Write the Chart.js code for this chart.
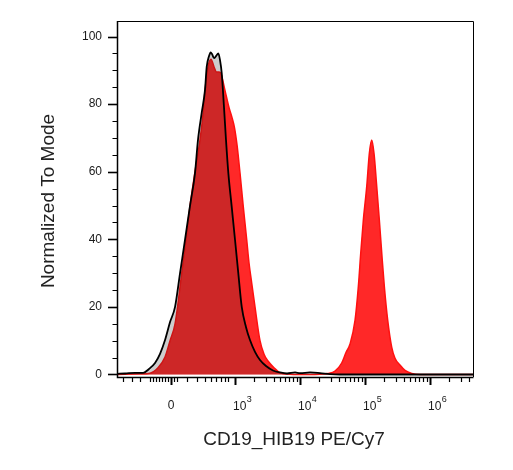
<!DOCTYPE html>
<html>
<head>
<meta charset="utf-8">
<script src="https://cdn.jsdelivr.net/npm/chart.js@4.4.1/dist/chart.umd.min.js"></script>
<style>
  html, body { margin: 0; padding: 0; background: #ffffff; }
  #wrap { width: 513px; height: 470px; position: relative; }
</style>
</head>
<body>
<div id="wrap"><canvas id="c"></canvas></div>
<script>
// ---- Data (x in display decades: 3 = 10^3, 4 = 10^4 ...; y = % of mode) ----
const CONTROL_X = [1.192, 1.315, 1.469, 1.592, 1.700, 1.777, 1.854, 1.931, 2.008, 2.085, 2.162, 2.238, 2.315, 2.392, 2.438, 2.495, 2.546, 2.572, 2.608, 2.634, 2.654, 2.685, 2.715, 2.751, 2.777, 2.803, 2.838, 2.869, 2.905, 2.957, 3.008, 3.058, 3.111, 3.177, 3.238, 3.315, 3.392, 3.485, 3.592, 3.700, 3.808, 3.931, 4.008, 4.162, 4.315, 4.469, 4.623, 6.669];
const CONTROL_Y = [0.2, 0.3, 0.5, 0.5, 1.9, 3.4, 6.1, 10.2, 15.5, 20.0, 30.0, 39.8, 49.9, 59.6, 69.4, 77.4, 84.2, 91.0, 94.2, 95.3, 94.8, 93.6, 94.2, 95.0, 93.0, 89.2, 79.1, 69.4, 59.6, 49.6, 39.8, 30.0, 20.0, 14.0, 10.2, 6.7, 4.3, 2.5, 1.2, 0.6, 0.3, 0.6, 0.4, 0.6, 0.4, 0.1, 0.0, 0.0];

const CD19_X = [1.192, 1.546, 1.700, 1.823, 1.931, 2.008, 2.085, 2.188, 2.254, 2.315, 2.392, 2.469, 2.515, 2.546, 2.597, 2.638, 2.685, 2.723, 2.762, 2.792, 2.854, 2.915, 2.962, 3.000, 3.038, 3.085, 3.135, 3.188, 3.223, 3.265, 3.315, 3.392, 3.454, 3.515, 3.608, 3.700, 3.854, 4.162, 4.315, 4.438, 4.546, 4.649, 4.715, 4.777, 4.854, 4.905, 4.942, 4.982, 5.034, 5.074, 5.111, 5.146, 5.188, 5.228, 5.265, 5.305, 5.357, 5.418, 5.469, 5.546, 5.623, 5.726, 5.854, 6.669];
const CD19_Y = [0.0, 0.2, 0.4, 2.0, 5.2, 10.0, 15.0, 30.0, 40.0, 49.8, 60.0, 69.4, 77.0, 84.0, 91.5, 93.3, 91.0, 89.5, 89.5, 89.0, 84.0, 79.0, 76.0, 73.0, 68.0, 59.5, 49.6, 39.8, 33.0, 27.0, 20.0, 10.0, 6.0, 4.0, 2.0, 0.5, 0.1, 0.0, 0.1, 0.3, 1.0, 3.4, 6.5, 9.0, 16.0, 26.0, 35.9, 45.7, 55.6, 65.4, 69.4, 65.4, 55.6, 45.7, 35.9, 26.0, 16.0, 8.1, 4.8, 2.8, 1.2, 0.3, 0.0, 0.0];

// ---- Axes / ticks ----
const X_MIN = 1.192, X_MAX = 6.669;
const Y_MIN = -0.74, Y_MAX = 104.59;
const Y_MAJOR = [0, 20, 40, 60, 80, 100];
const Y_MINOR = [5, 10, 15, 25, 30, 35, 45, 50, 55, 65, 70, 75, 85, 90, 95];
const X_MAJOR_POS = [2.023, 3, 4, 5, 6];
const X_MAJOR_BASE = ['0', '10', '10', '10', '10'];
const X_MAJOR_EXP = ['', '3', '4', '5', '6'];
const X_MINOR_LINEAR = [1.280, 1.418, 1.546, 1.700, 1.746, 1.792, 1.838, 1.885, 1.931, 1.977, 2.069, 2.115, 2.269, 2.418, 2.546, 2.638, 2.720, 2.789, 2.849, 2.905];
const LOG_DECADES = [3, 4, 5, 6];
const LOG_MULTS = [2, 3, 4, 5, 6, 7, 8, 9];
const X_TITLE = 'CD19_HIB19 PE/Cy7';
const Y_TITLE = 'Normalized To Mode';

const FONT = "'Liberation Sans', Arial, sans-serif";

const axesPlugin = {
  id: 'flowAxes',
  afterDraw(chart) {
    const {ctx, chartArea: a, scales: {x, y}} = chart;
    ctx.save();
    ctx.strokeStyle = '#000';
    // frame
    ctx.lineWidth = 1;
    ctx.beginPath();
    ctx.moveTo(a.left, a.top + 0.5); ctx.lineTo(a.right + 0.5, a.top + 0.5);
    ctx.lineTo(a.right + 0.5, a.bottom);
    ctx.stroke();
    ctx.lineWidth = 1.5;
    ctx.beginPath();
    ctx.moveTo(a.left + 0.5, a.top); ctx.lineTo(a.left + 0.5, a.bottom + 0.5);
    ctx.lineTo(a.right + 0.5, a.bottom + 0.5);
    ctx.stroke();

    // y ticks
    ctx.lineWidth = 1.6;
    Y_MAJOR.forEach(v => {
      const py = Math.round(y.getPixelForValue(v)) + 0.5;
      ctx.beginPath(); ctx.moveTo(a.left - 9, py); ctx.lineTo(a.left + 0.5, py); ctx.stroke();
    });
    ctx.lineWidth = 1;
    Y_MINOR.forEach(v => {
      const py = Math.round(y.getPixelForValue(v)) + 0.5;
      ctx.beginPath(); ctx.moveTo(a.left - 4.5, py); ctx.lineTo(a.left + 0.5, py); ctx.stroke();
    });

    // x ticks
    const minors = X_MINOR_LINEAR.slice();
    LOG_DECADES.forEach(k => LOG_MULTS.forEach(m => {
      const p = k + Math.log10(m);
      if (p < X_MAX) minors.push(p);
    }));
    ctx.lineWidth = 1.2;
    minors.forEach(v => {
      const px = Math.round(x.getPixelForValue(v)) + 0.5;
      ctx.beginPath(); ctx.moveTo(px, a.bottom); ctx.lineTo(px, a.bottom + 5); ctx.stroke();
    });
    ctx.lineWidth = 2;
    X_MAJOR_POS.forEach(v => {
      const px = Math.round(x.getPixelForValue(v)) + 0.5;
      ctx.beginPath(); ctx.moveTo(px, a.bottom); ctx.lineTo(px, a.bottom + 8); ctx.stroke();
    });

    // y labels
    ctx.fillStyle = '#1a1a1a';
    ctx.font = '12px ' + FONT;
    ctx.textAlign = 'right';
    ctx.textBaseline = 'middle';
    Y_MAJOR.forEach(v => {
      ctx.fillText(String(v), a.left - 15, y.getPixelForValue(v));
    });

    // x labels
    X_MAJOR_POS.forEach((v, i) => {
      const px = x.getPixelForValue(v);
      ctx.font = '12px ' + FONT;
      ctx.textBaseline = 'middle';
      if (!X_MAJOR_EXP[i]) {
        ctx.textAlign = 'center';
        ctx.fillText(X_MAJOR_BASE[i], px, a.bottom + 29);
      } else {
        ctx.textAlign = 'left';
        const bx = px - 1.5;
        ctx.fillText(X_MAJOR_BASE[i], bx, a.bottom + 30);
        const w = ctx.measureText(X_MAJOR_BASE[i]).width;
        ctx.font = '9px ' + FONT;
        ctx.fillText(X_MAJOR_EXP[i], bx + w + 0.5, a.bottom + 23);
      }
    });

    // titles
    ctx.fillStyle = '#222';
    ctx.font = '19px ' + FONT;
    ctx.textAlign = 'center';
    ctx.textBaseline = 'middle';
    ctx.fillText(X_TITLE, (a.left + a.right) / 2 - 1, 440);
    ctx.save();
    ctx.translate(48.5, (a.top + a.bottom) / 2 + 2);
    ctx.rotate(-Math.PI / 2);
    ctx.fillText(Y_TITLE, 0, 0);
    ctx.restore();
    ctx.restore();
  }
};

const toPts = (xs, ys) => xs.map((v, i) => ({x: v, y: ys[i]}));

new Chart(document.getElementById('c'), {
  type: 'line',
  data: {
    datasets: [
      {
        label: 'Unstained control',
        data: toPts(CONTROL_X, CONTROL_Y),
        order: 1,
        borderColor: '#000000',
        borderWidth: 1.8,
        backgroundColor: 'rgba(40,40,40,0.233)',
        fill: 'origin',
        pointRadius: 0,
        cubicInterpolationMode: 'monotone'
      },
      {
        label: 'CD19 HIB19 PE/Cy7',
        data: toPts(CD19_X, CD19_Y),
        order: 2,
        borderColor: '#ff1010',
        borderWidth: 1.5,
        backgroundColor: 'rgb(255,40,40)',
        fill: 'origin',
        pointRadius: 0,
        cubicInterpolationMode: 'monotone'
      }
    ]
  },
  options: {
    responsive: true,
    maintainAspectRatio: false,
    animation: false,
    events: [],
    layout: { padding: { left: 117, right: 40, top: 21, bottom: 93 } },
    plugins: { legend: { display: false }, tooltip: { enabled: false } },
    scales: {
      x: { type: 'linear', min: X_MIN, max: X_MAX, display: false },
      y: { type: 'linear', min: Y_MIN, max: Y_MAX, display: false }
    }
  },
  plugins: [axesPlugin]
});
</script>
</body>
</html>
